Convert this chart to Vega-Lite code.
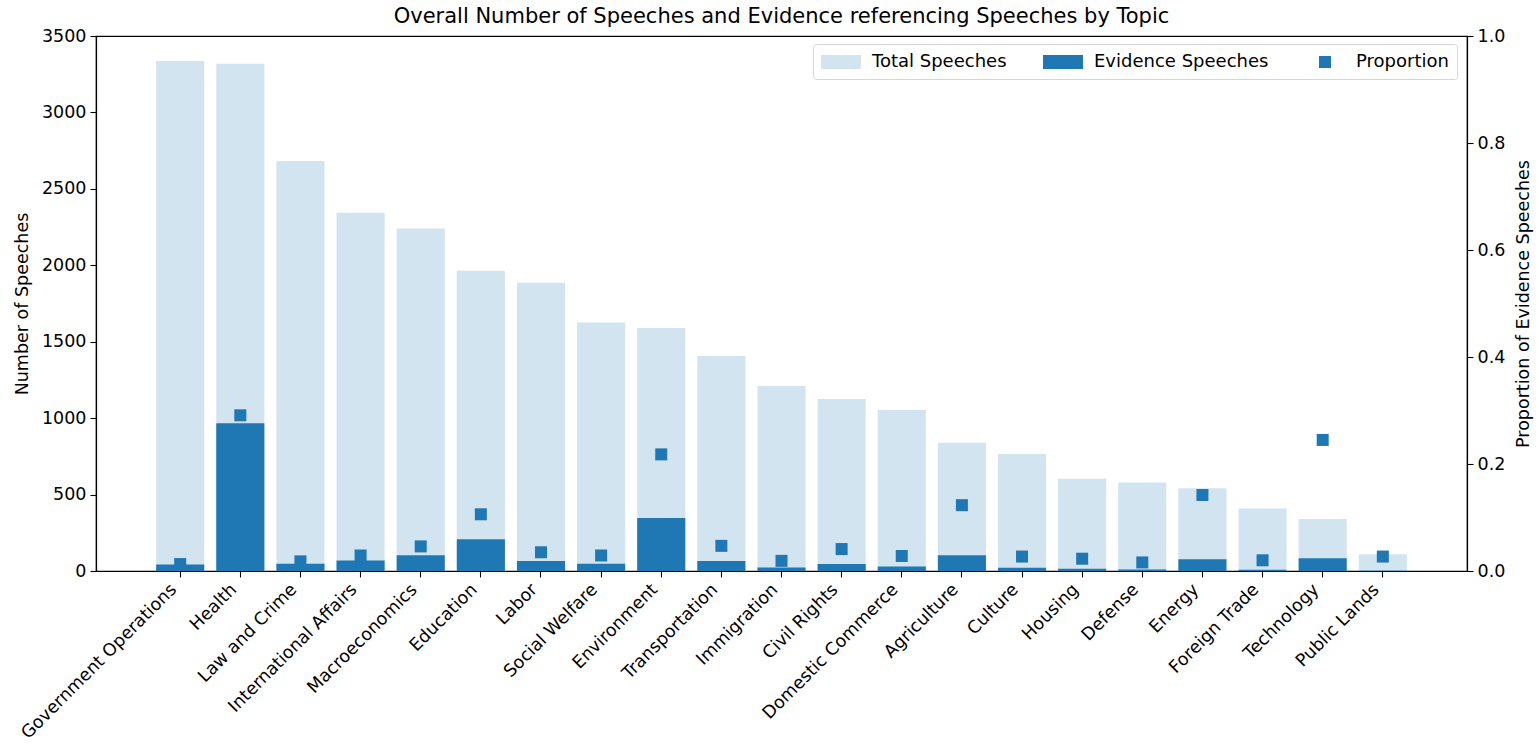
{
  "$schema": "https://vega.github.io/schema/vega-lite/v6.json",
  "autosize": {"type": "none"},
  "width": 1371,
  "height": 535,
  "padding": {"left": 96, "top": 36, "right": 72, "bottom": 177},
  "background": "white",
  "title": {"text": "Overall Number of Speeches and Evidence referencing Speeches by Topic", "font": "DejaVu Sans", "fontSize": 21, "fontWeight": "normal", "color": "black", "offset": 0, "anchor": "middle"},
  "config": {
    "view": {"stroke": "black", "strokeWidth": 1.2},
    "axis": {"labelFont": "DejaVu Sans", "titleFont": "DejaVu Sans", "labelFontSize": 17.5, "titleFontSize": 17.5, "titleFontWeight": "normal", "labelColor": "black", "titleColor": "black", "domainColor": "black", "tickColor": "black", "tickSize": 6, "tickWidth": 1.1, "domainWidth": 1.2, "grid": false, "labelPadding": 4}
  },
  "data": {"values": [
    {"topic": "Government Operations", "total": 3336, "evidence": 42, "proportion": 0.013},
    {"topic": "Health", "total": 3318, "evidence": 967, "proportion": 0.291},
    {"topic": "Law and Crime", "total": 2682, "evidence": 47, "proportion": 0.018},
    {"topic": "International Affairs", "total": 2343, "evidence": 68, "proportion": 0.029},
    {"topic": "Macroeconomics", "total": 2241, "evidence": 103, "proportion": 0.046},
    {"topic": "Education", "total": 1965, "evidence": 208, "proportion": 0.106},
    {"topic": "Labor", "total": 1886, "evidence": 65, "proportion": 0.035},
    {"topic": "Social Welfare", "total": 1626, "evidence": 47, "proportion": 0.029},
    {"topic": "Environment", "total": 1589, "evidence": 346, "proportion": 0.218},
    {"topic": "Transportation", "total": 1407, "evidence": 66, "proportion": 0.047},
    {"topic": "Immigration", "total": 1210, "evidence": 23, "proportion": 0.019},
    {"topic": "Civil Rights", "total": 1126, "evidence": 46, "proportion": 0.041},
    {"topic": "Domestic Commerce", "total": 1054, "evidence": 30, "proportion": 0.028},
    {"topic": "Agriculture", "total": 839, "evidence": 103, "proportion": 0.123},
    {"topic": "Culture", "total": 766, "evidence": 21, "proportion": 0.027},
    {"topic": "Housing", "total": 603, "evidence": 14, "proportion": 0.023},
    {"topic": "Defense", "total": 579, "evidence": 9, "proportion": 0.016},
    {"topic": "Energy", "total": 542, "evidence": 77, "proportion": 0.142},
    {"topic": "Foreign Trade", "total": 409, "evidence": 8, "proportion": 0.020},
    {"topic": "Technology", "total": 341, "evidence": 84, "proportion": 0.245},
    {"topic": "Public Lands", "total": 110, "evidence": 3, "proportion": 0.027}
  ]},
  "encoding": {
    "x": {"field": "topic", "type": "nominal", "sort": null,
      "scale": {"paddingInner": 0.2, "paddingOuter": 1.04},
      "axis": {"title": null, "labelAngle": -45, "labelAlign": "right", "labelBaseline": "bottom", "labelPadding": 16, "labelLimit": 400}}
  },
  "layer": [
    {
      "mark": {"type": "bar"},
      "encoding": {
        "y": {"field": "total", "type": "quantitative", "scale": {"domain": [0, 3500], "nice": false},
          "axis": {"title": "Number of Speeches", "values": [0, 500, 1000, 1500, 2000, 2500, 3000, 3500], "format": "d", "titlePadding": 10}},
        "color": {"datum": "Total Speeches", "type": "nominal",
          "scale": {"domain": ["Total Speeches", "Evidence Speeches", "Proportion"], "range": ["#d2e4f0", "#1f77b4", "#1f77b4"]},
          "legend": {
            "orient": "none", "legendX": 717, "legendY": 8, "direction": "horizontal", "columns": 3, "title": null,
            "symbolType": "M-1,-0.7H3V0.7H-1Z", "symbolSize": 400, "symbolStrokeWidth": 0, "symbolOpacity": 1,
            "labelFont": "DejaVu Sans", "labelFontSize": 18, "labelColor": "black", "labelOffset": 31, "labelLimit": 400,
            "columnPadding": 36, "padding": 8, "fillColor": "white", "strokeColor": "#d5d5d5", "cornerRadius": 3,
            "encode": {"symbols": {"update": {
              "shape": {"signal": "datum.value === 'Proportion' ? 'M0.4,-0.6H1.6V0.6H0.4Z' : 'M-1,-0.7H3V0.7H-1Z'"}
            }}}
          }}
      }
    },
    {
      "mark": {"type": "bar"},
      "encoding": {
        "y": {"field": "evidence", "type": "quantitative", "scale": {"domain": [0, 3500], "nice": false}, "axis": null},
        "color": {"datum": "Evidence Speeches", "type": "nominal"}
      }
    },
    {
      "mark": {"type": "point", "shape": "square", "filled": true, "size": 144, "opacity": 1},
      "encoding": {
        "y": {"field": "proportion", "type": "quantitative", "scale": {"domain": [0, 1], "nice": false},
          "axis": {"orient": "right", "title": "Proportion of Evidence Speeches", "titleAngle": 270, "titleBaseline": "top", "values": [0, 0.2, 0.4, 0.6, 0.8, 1.0], "format": ".1f", "titlePadding": 10}},
        "color": {"datum": "Proportion", "type": "nominal"}
      }
    }
  ],
  "resolve": {"scale": {"y": "independent"}}
}
